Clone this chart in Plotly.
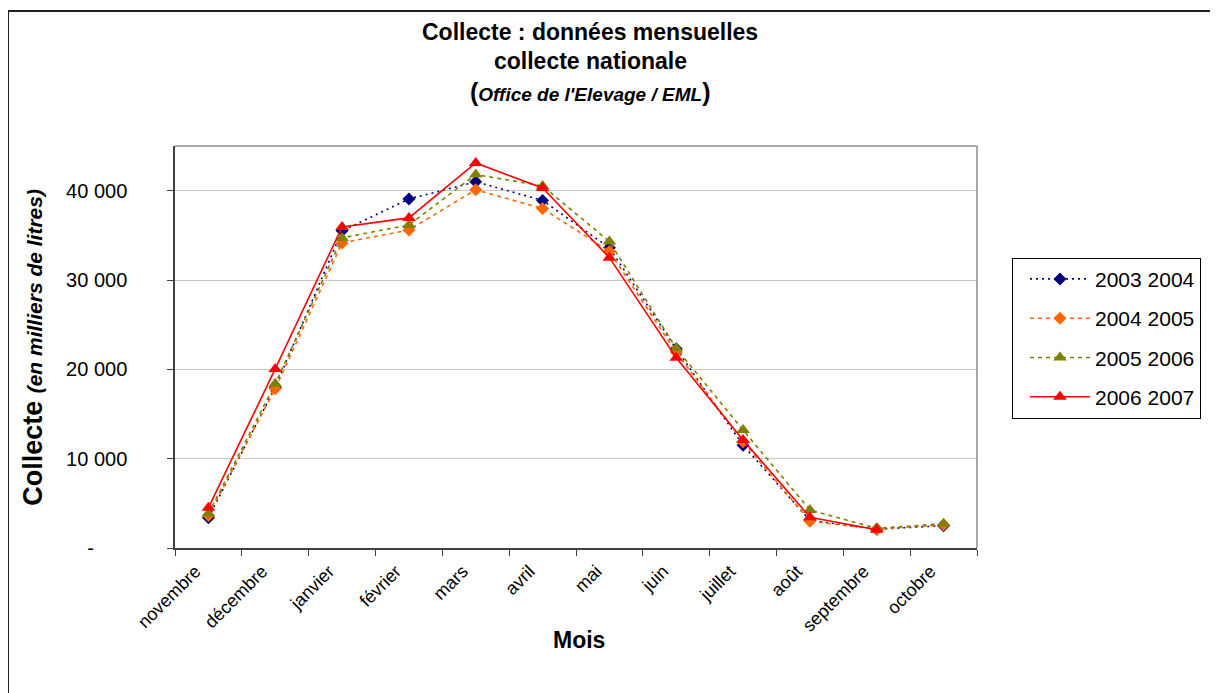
import plotly.graph_objects as go

months = ["novembre", "décembre", "janvier", "février", "mars", "avril",
          "mai", "juin", "juillet", "août", "septembre", "octobre"]

s_2003_2004 = [3390, 18000, 35500, 39070, 41000, 38900, 33600, 22300, 11500, 3100, 2100, 2500]
s_2004_2005 = [3650, 17820, 34150, 35600, 40100, 38000, 33200, 21900, 11900, 3000, 2100, 2600]
s_2005_2006 = [3850, 18380, 34710, 36160, 41800, 40530, 34300, 22350, 13200, 4250, 2200, 2720]
s_2006_2007 = [4500, 20050, 35940, 36950, 43100, 40300, 32500, 21300, 12100, 3450, 2050, None]

y_ticks = [0, 10000, 20000, 30000, 40000]
y_ticktext = ["-\u2007\u2007\u2007", "10 000", "20 000", "30 000", "40 000"]

FONT = "Liberation Sans, Arial, sans-serif"

series = [
    ("2003 2004", s_2003_2004, "#000080", "2px,4px", "diamond", 10),
    ("2004 2005", s_2004_2005, "#FF6600", "4px,4px", "diamond", 10),
    ("2005 2006", s_2005_2006, "#808000", "4px,4px", "triangle-up", 12),
    ("2006 2007", s_2006_2007, "#FF0000", "solid", "triangle-up", 12),
]

fig = go.Figure()
for i, (name, vals, col, dash, sym, msz) in enumerate(series):
    fig.add_trace(go.Scatter(
        x=months, y=vals, name=name, mode="lines+markers",
        line=dict(color=col, width=1.6, dash=dash),
        marker=dict(symbol=sym, size=msz, color=col, line=dict(width=0)),
        legendgroup="g%d" % i,
    ))

# page body has an 8px margin: compensate so the plot area sits at x 175-977, y 146-548
fig.update_layout(
    width=1210, height=685,
    margin=dict(l=167, r=241, t=138, b=145, autoexpand=False),
    paper_bgcolor="white", plot_bgcolor="white",
    font=dict(family=FONT, color="black"),
    showlegend=True,
    legend=dict(
        x=1.0436, y=0.722, xanchor="left", yanchor="top",
        bordercolor="black", borderwidth=1, bgcolor="white",
        font=dict(size=21, family=FONT, color="black"),
        tracegroupgap=9, itemwidth=60, indentation=12,
    ),
    xaxis=dict(
        type="category", range=[-0.5, 11.5], tickson="boundaries",
        ticks="outside", ticklen=6,
        tickcolor="#404040", tickangle=-45, tickfont=dict(size=18),
        ticklabelshift=-13, ticklabelstandoff=4,
        showline=True, linecolor="#404040", linewidth=1.5,
        showgrid=False, zeroline=False,
    ),
    yaxis=dict(
        range=[0, 45000], tickvals=y_ticks, ticktext=y_ticktext,
        ticks="outside", ticklen=6, tickcolor="#404040",
        tickfont=dict(size=20), ticklabelstandoff=36,
        showline=True, linecolor="#404040", linewidth=1.5,
        showgrid=True, gridcolor="#c8c8c8", gridwidth=1, zeroline=False,
    ),
)

# plot area top/right border (grey)
fig.add_shape(type="line", xref="paper", yref="paper", x0=0, x1=1, y0=1, y1=1,
              line=dict(color="#8c8c8c", width=1.5))
fig.add_shape(type="line", xref="paper", yref="paper", x0=1, x1=1, y0=0, y1=1,
              line=dict(color="#8c8c8c", width=1.5))
# outer chart border
fig.add_shape(type="rect", xref="paper", yref="paper",
              x0=(8 - 175) / 802, x1=1.4, y0=(548.3 - 11) / 402.3, y1=-0.5,
              line=dict(color="#202020", width=2))

# titles
fig.add_annotation(text="<b>Collecte : données mensuelles</b>", xref="paper", yref="paper",
                   x=0.5175, y=(548.3 - 32) / 402.3, showarrow=False,
                   xanchor="center", yanchor="middle", font=dict(size=23))
fig.add_annotation(text="<b>collecte nationale</b>", xref="paper", yref="paper",
                   x=0.5175, y=(548.3 - 61) / 402.3, showarrow=False,
                   xanchor="center", yanchor="middle", font=dict(size=23))
fig.add_annotation(text="<b><span style='font-size:25px'>(</span><i>Office de l'Elevage / EML</i><span style='font-size:25px'>)</span></b>",
                   xref="paper", yref="paper",
                   x=0.5175, y=(548.3 - 92) / 402.3, showarrow=False,
                   xanchor="center", yanchor="middle", font=dict(size=19))
# axis titles
fig.add_annotation(text="<b>Mois</b>", xref="paper", yref="paper",
                   x=(579 - 175) / 802, y=(548.3 - 640) / 402.3, showarrow=False,
                   xanchor="center", yanchor="middle", font=dict(size=23))
fig.add_annotation(text="<b>Collecte </b><b><i><span style='font-size:21px'>(en milliers de litres)</span></i></b>",
                   xref="paper", yref="paper", textangle=-90,
                   x=(33 - 175) / 802, y=(548.3 - 348) / 402.3, showarrow=False,
                   xanchor="center", yanchor="middle", font=dict(size=27))

fig.write_html("out.html")
